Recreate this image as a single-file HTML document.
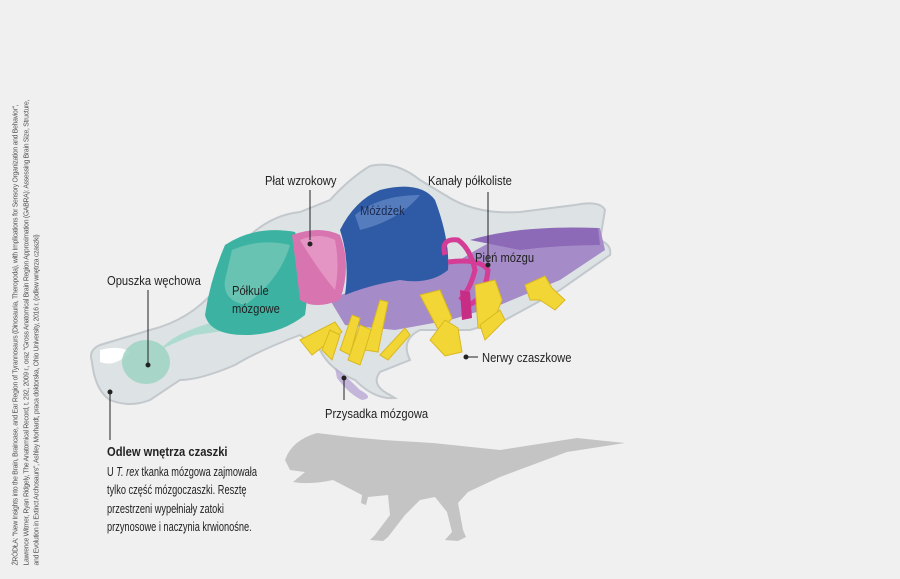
<!DOCTYPE html>
<html><head><meta charset="utf-8"><style>
html,body{margin:0;padding:0;background:#f0f0f0;}
body{width:900px;height:579px;position:relative;overflow:hidden;font-family:"Liberation Sans",sans-serif;color:#222;}
.l{position:absolute;font-size:13px;white-space:nowrap;transform:scaleX(0.86);transform-origin:0 0;}
.src{position:absolute;left:-205px;top:307px;width:475px;height:42px;transform:rotate(-90deg);font-size:6.9px;line-height:10.5px;color:#555;letter-spacing:-0.3px;white-space:nowrap;}
</style></head><body>
<svg width="900" height="579" style="position:absolute;left:0;top:0">
<path d="M92,362 Q88,350 100,345 L150,330 Q190,320 215,290 L245,240 Q270,215 300,212 L330,200 Q350,178 370,166 Q395,160 420,180 L445,195 Q475,215 520,212 L575,205 Q600,200 605,210 L600,240 Q612,245 610,255 L560,290 L505,320 L470,330 L420,330 Q400,340 410,360 L380,372 Q370,385 390,395 L395,398 Q375,400 355,380 Q330,370 320,350 L300,335 Q260,350 235,365 Q200,380 180,380 L150,400 Q130,408 110,400 Q95,390 92,362 Z" fill="#dde2e4" stroke="#c2c8cc" stroke-width="2"/>
<path d="M100,350 Q120,345 130,352 Q115,368 100,362 Z" fill="#fff"/>
<path d="M160,350 Q180,340 195,335 Q210,333 230,330 L230,318 Q210,322 190,330 Q170,338 160,350Z" fill="#aedbd0"/>
<ellipse cx="146" cy="362" rx="24" ry="22" fill="#9ed3c3" opacity="0.85"/>
<path d="M225,245 Q255,225 295,232 Q312,270 305,315 Q280,335 245,335 Q210,335 205,315 Q210,280 225,245Z" fill="#3cb3a2"/>
<path d="M232,250 Q260,238 290,245 Q280,280 245,305 Q222,300 225,280Z" fill="#7ccbbb" opacity="0.7"/>
<path d="M330,300 Q360,285 400,280 L460,260 Q490,240 520,230 L600,228 L605,250 L560,280 L500,305 L450,320 L395,330 L345,325 Z" fill="#a58bc7"/>
<path d="M470,240 Q520,225 598,228 L600,245 Q560,245 520,250 Z" fill="#8d6ab8"/>
<path d="M292,235 Q320,225 340,235 Q352,265 340,300 Q315,310 300,300 Q296,265 292,235Z" fill="#d874b0"/>
<path d="M300,240 Q320,232 335,240 Q340,265 335,290 Q318,270 300,240Z" fill="#eaa4cc" opacity="0.7"/>
<path d="M340,230 Q355,200 380,190 Q420,180 435,200 Q450,240 448,270 Q430,285 400,280 Q370,285 345,295 Q350,260 340,230Z" fill="#2f5aa6"/>
<path d="M355,215 Q380,195 420,195 Q400,220 360,230Z" fill="#6f93cd" opacity="0.6"/>
<path d="M445,255 Q440,238 458,240 Q470,248 475,270 Q470,290 460,300" fill="none" stroke="#d43c96" stroke-width="5"/>
<path d="M448,262 Q480,258 488,270 Q485,300 468,305" fill="none" stroke="#d43c96" stroke-width="5"/>
<path d="M460,290 L470,292 L472,318 L462,320Z" fill="#c82d86"/>
<g fill="#f2d635" stroke="#d8b820" stroke-width="1">
<path d="M300,340 L335,322 L342,332 L312,355 Z"/>
<path d="M322,350 L330,330 L340,335 L332,360 Z"/>
<path d="M340,350 L352,315 L360,318 L350,355 Z"/>
<path d="M348,360 L360,325 L372,330 L360,365 Z"/>
<path d="M365,350 L380,300 L388,302 L378,352 Z"/>
<path d="M380,355 L405,328 L410,335 L388,360 Z"/>
<path d="M420,295 L440,290 L452,318 L440,333 Z"/>
<path d="M430,340 L445,320 L458,328 L462,352 L445,356 Z"/>
<path d="M475,285 L495,280 L502,300 L490,330 L478,328 Z"/>
<path d="M480,325 L500,310 L505,320 L485,340 Z"/>
<path d="M525,285 L545,276 L552,288 L565,300 L555,310 L540,300 L530,300 Z"/>
</g>
<path d="M335,368 Q345,375 360,390 Q375,398 362,400 Q350,395 337,378Z" fill="#b9a8d6" opacity="0.8"/>
<g stroke="#222" stroke-width="1" fill="#222">
<line x1="310" y1="190" x2="310" y2="240"/><circle cx="310" cy="244" r="2"/>
<line x1="488" y1="192" x2="488" y2="262"/><circle cx="488" cy="265" r="2"/>
<line x1="148" y1="290" x2="148" y2="363"/><circle cx="148" cy="365" r="2"/>
<line x1="110" y1="393" x2="110" y2="440"/><circle cx="110" cy="392" r="2"/>
<line x1="467" y1="357" x2="478" y2="357"/><circle cx="466" cy="357" r="2"/>
<line x1="344" y1="380" x2="344" y2="400"/><circle cx="344" cy="378" r="2"/>
</g>
<path d="M285,460 Q292,440 317,433 L350,437 L383,440 L433,443 L500,450 L577,438 L625,443 L567,452 L500,477 L468,492 L458,503 L463,530 L466,537 L458,541 L445,540 L452,532 L447,512 L435,497 L420,500 L405,515 L388,537 L383,541 L370,540 L375,535 L390,515 L388,495 L368,497 L366,505 L361,503 L362,495 L333,480 Q310,485 293,482 L305,472 L290,470 Z" fill="#c4c4c4"/>
</svg>
<div class="l" style="left:265px;top:173px">Płat wzrokowy</div>
<div class="l" style="left:360px;top:203px;color:#1a2a50">Móżdżek</div>
<div class="l" style="left:428px;top:173px">Kanały półkoliste</div>
<div class="l" style="left:475px;top:250px">Pień mózgu</div>
<div class="l" style="left:107px;top:273px">Opuszka węchowa</div>
<div class="l" style="left:232px;top:282px;line-height:18px">Półkule<br>mózgowe</div>
<div class="l" style="left:482px;top:350px">Nerwy czaszkowe</div>
<div class="l" style="left:325px;top:406px">Przysadka mózgowa</div>
<div class="l" style="left:107px;top:444px"><b>Odlew wnętrza czaszki</b></div>
<div class="l" style="left:107px;top:462.5px;line-height:18.5px;transform:scaleX(0.71)">U <i>T. rex</i> tkanka mózgowa zajmowała<br>tylko część mózgoczaszki. Resztę<br>przestrzeni wypełniały zatoki<br>przynosowe i naczynia krwionośne.</div>
<div class="src">ŹRÓDŁA: "New Insights into the Brain, Braincase, and Ear Region of Tyrannosaurs (Dinosauria, Theropoda), with Implications for Sensory Organization and Behavior",<br>Lawrence Witmer, Ryan Ridgely, The Anatomical Record, t. 292, 2009 r., oraz "Gross Anatomical Brain Region Approximation (GABRA): Assessing Brain Size, Structure,<br>and Evolution in Extinct Archosaurs", Ashley Morhardt, praca doktorska, Ohio University, 2016 r. (odlew wnętrza czaszki)</div>
</body></html>
